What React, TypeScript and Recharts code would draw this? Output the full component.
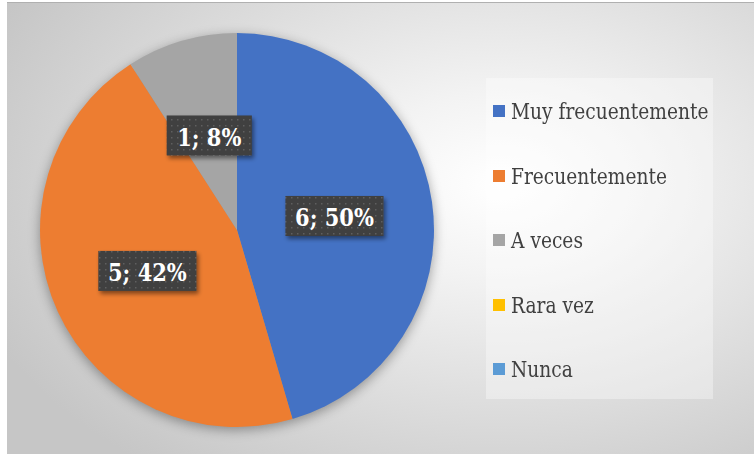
import React from "react";
import { PieChart, Pie, Cell, Legend } from "recharts";

const categories = ["Muy frecuentemente", "Frecuentemente", "A veces", "Rara vez", "Nunca"];
const values = [5, 5, 1, 0, 0];
const labelTexts = ["6; 50%", "5; 42%", "1; 8%", "", ""];
const colors = ["#4472C4", "#ED7D31", "#A5A5A5", "#FFC000", "#5B9BD5"];

const data = categories.map((name, i) => ({ name, value: values[i], label: labelTexts[i] }));

const SERIF = "'DejaVu Serif', serif";
const RADIAN = Math.PI / 180;
const charW: Record<string, number> = { ";": 0.333, " ": 0.25, "%": 1.0 };
const boxWidth = (s: string, fs: number) =>
  s.split("").reduce((a, c) => a + (charW[c] ?? 0.5), 0) * fs;

const renderLabel = (props: any) => {
  const { cx, cy, midAngle, outerRadius, index } = props;
  const txt = labelTexts[index];
  if (!txt) return null;
  const r = outerRadius * 0.5;
  const x = cx + r * Math.cos(-midAngle * RADIAN);
  const y = cy + r * Math.sin(-midAngle * RADIAN);
  const w = boxWidth(txt, 26) + 18;
  const h = 40;
  return (
    <g key={`lbl-${index}`}>
      <rect x={x - w / 2} y={y - h / 2} width={w} height={h} fill="url(#dots)" filter="url(#lblShadow)" />
      <text
        transform={`translate(${x},${y + 1}) scale(0.84,1)`}
        x={0}
        y={0}
        textAnchor="middle"
        dominantBaseline="central"
        fill="#ffffff"
        style={{ fontFamily: SERIF }}
        fontWeight="bold"
        fontSize={25}
      >
        {txt}
      </text>
    </g>
  );
};

const renderLegend = () => (
  <div
    style={{
      width: 227,
      height: 321,
      background: "rgba(255,255,255,0.35)",
      position: "relative",
      fontFamily: SERIF,
    }}
  >
    {categories.map((c, i) => (
      <div
        key={c}
        style={{
          position: "absolute",
          left: 7,
          top: 33 + i * 64.5 - 15,
          height: 30,
          display: "flex",
          alignItems: "center",
          whiteSpace: "nowrap",
        }}
      >
        <span style={{ width: 12, height: 12, background: colors[i], display: "inline-block", marginRight: 6 }} />
        <span
          style={{
            fontSize: 23,
            color: "#404040",
            lineHeight: "30px",
            display: "inline-block",
            transform: "scaleX(0.81)",
            transformOrigin: "left center",
          }}
        >
          {c}
        </span>
      </div>
    ))}
  </div>
);

export default function App() {
  return (
    <div style={{ position: "absolute", left: 0, top: 0, width: 754, height: 454, background: "#ffffff" }}>
      <style>{`.recharts-pie { filter: drop-shadow(0px 3px 6px rgba(0,0,0,0.35)); }`}</style>
      <div
        style={{
          position: "absolute",
          left: 7,
          top: 2,
          width: 747,
          height: 452,
          borderTop: "1px solid #b0b0b0",
          background:
            "radial-gradient(ellipse 75% 80% at 66% 40%, #ffffff 0%, #f3f3f3 25%, #dedede 60%, #c6c6c6 100%)",
        }}
      >
        <PieChart width={747} height={451} margin={{ top: 0, right: 0, bottom: 0, left: 0 }}>
          <defs>
            <pattern id="dots" width="6" height="6" patternUnits="userSpaceOnUse">
              <rect width="6" height="6" fill="#3f3f3f" />
              <rect x="2" y="2" width="1.5" height="1.5" fill="#5e5e5e" />
            </pattern>
            <filter id="lblShadow" x="-20%" y="-30%" width="140%" height="170%">
              <feDropShadow dx="2" dy="3" stdDeviation="2" floodColor="#000" floodOpacity="0.45" />
            </filter>
          </defs>
          <Pie
            data={data}
            dataKey="value"
            nameKey="name"
            cx={230}
            cy={227}
            outerRadius={197}
            startAngle={90}
            endAngle={-270}
            stroke="none"
            label={renderLabel}
            labelLine={false}
            isAnimationActive={false}
          >
            {data.map((d, i) => (
              <Cell key={d.name} fill={colors[i]} />
            ))}
          </Pie>
          <Legend
            content={renderLegend}
            wrapperStyle={{ position: "absolute", left: 479, top: 75, width: 227, height: 321 }}
          />
        </PieChart>
      </div>
    </div>
  );
}
